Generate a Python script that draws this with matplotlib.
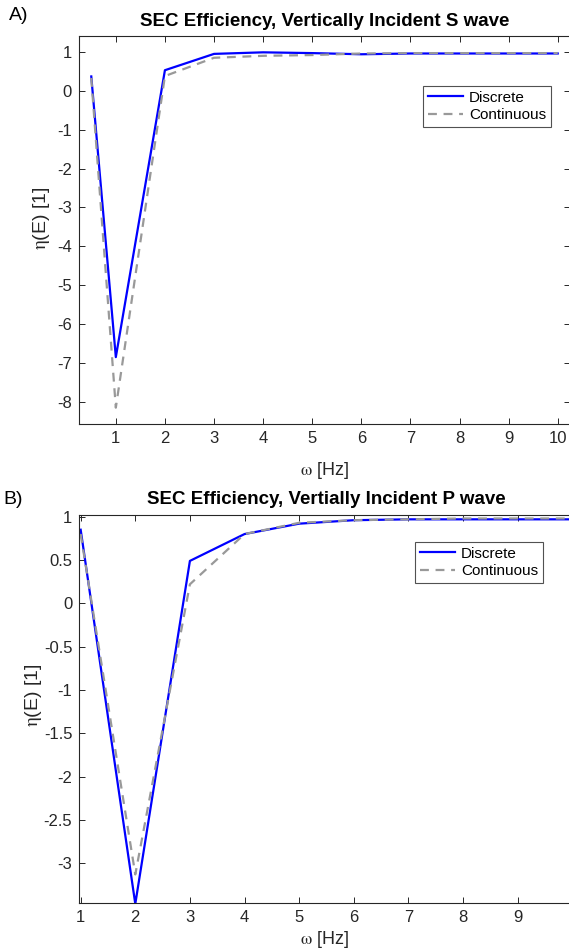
import matplotlib
matplotlib.use("Agg")
import matplotlib.pyplot as plt

plt.rcParams['font.family'] = ['Liberation Sans', 'DejaVu Sans']
plt.rcParams['axes.unicode_minus'] = False
plt.rcParams['mathtext.fontset'] = 'stix'

# Panel A: vertically incident S wave
freq_s = [0.5, 1, 2, 3, 4, 5, 6, 7, 8, 9, 10]
disc_s = [0.37, -6.85, 0.53, 0.95, 0.99, 0.97, 0.94, 0.96, 0.96, 0.96, 0.96]
cont_s = [0.33, -8.15, 0.38, 0.85, 0.90, 0.92, 0.96, 0.97, 0.97, 0.97, 0.97]

# Panel B: vertically incident P wave
freq_p = [1, 2, 3, 4, 5, 6, 7, 8, 9, 10]
disc_p = [0.85, -3.47, 0.49, 0.80, 0.92, 0.96, 0.97, 0.97, 0.97, 0.97]
cont_p = [0.80, -3.13, 0.22, 0.80, 0.93, 0.96, 0.97, 0.98, 0.98, 0.98]

yticks_s = [1, 0, -1, -2, -3, -4, -5, -6, -7, -8]
xticks_s = [1, 2, 3, 4, 5, 6, 7, 8, 9, 10]
yticks_p = [1, 0.5, 0, -0.5, -1, -1.5, -2, -2.5, -3]
ytick_labels_p = ['1', '0.5', '0', '-0.5', '-1', '-1.5', '-2', '-2.5', '-3']
xticks_p = [1, 2, 3, 4, 5, 6, 7, 8, 9]

W, H = 569, 952
fig = plt.figure(figsize=(W / 100, H / 100), dpi=100)

def px_axes(l, r, t, b):
    return fig.add_axes([l / W, 1 - b / H, (r - l) / W, (b - t) / H])

grey = (0.15, 0.15, 0.15)
blue = (0, 0, 1)
dash_c = (0.6, 0.6, 0.6)

def style(ax):
    ax.tick_params(direction='in', top=True, right=True, length=4, width=0.7,
                   labelsize=12, colors=grey, pad=5)
    for s in ax.spines.values():
        s.set_color(grey)
        s.set_linewidth(0.8)

def add_legend(ax, x0, y0):
    leg = ax.legend(loc='upper left', bbox_to_anchor=(x0, y0), bbox_transform=fig.transFigure,
                    fontsize=11, frameon=True, fancybox=False, handlelength=2.3,
                    borderpad=0.3, labelspacing=0.22, handletextpad=0.4, borderaxespad=0)
    leg.get_frame().set_edgecolor(grey)
    leg.get_frame().set_linewidth(0.8)
    return leg

xlabel_txt = r'$\mathrm{\omega}$ [Hz]'
ylabel_txt = r'$\mathrm{\eta}$(E) [1]'

ax1 = px_axes(79, 570, 36, 424)
ax1.plot(freq_s, disc_s, color=blue, lw=1.6, label='Discrete')
ax1.plot(freq_s, cont_s, color=dash_c, lw=1.6, ls=(0, (4, 3)), label='Continuous')
ax1.set_xlim(0.25, 10.25)
ax1.set_ylim(-8.57, 1.41)
ax1.set_xticks(xticks_s)
ax1.set_yticks(yticks_s)
style(ax1)
ax1.set_xlabel(xlabel_txt, fontsize=13, color=grey)
ax1.set_ylabel(ylabel_txt, fontsize=14, color=grey)
ax1.xaxis.set_label_coords((325 - 79) / 491, -(460 - 424) / 388)
ax1.yaxis.set_label_coords((52 - 79) / 491, 1 - (218 - 36) / 388)
add_legend(ax1, 423 / W, 1 - 86 / H)

ax2 = px_axes(79.3, 575, 515, 903)
ax2.plot(freq_p, disc_p, color=blue, lw=1.6, label='Discrete')
ax2.plot(freq_p, cont_p, color=dash_c, lw=1.6, ls=(0, (4, 3)), label='Continuous')
ax2.set_xlim(0.975, 10.05)
ax2.set_ylim(-3.46, 1.02)
ax2.set_xticks(xticks_p)
ax2.set_yticks(yticks_p)
ax2.set_yticklabels(ytick_labels_p)
style(ax2)
ax2.set_xlabel(xlabel_txt, fontsize=13, color=grey)
ax2.set_ylabel(ylabel_txt, fontsize=14, color=grey)
ax2.xaxis.set_label_coords((325 - 79.3) / 495.7, -(929 - 903) / 388)
ax2.yaxis.set_label_coords((44 - 79.3) / 495.7, 1 - (695 - 515) / 388)
add_legend(ax2, 415 / W, 1 - 542 / H)

fig.text(325 / W, 1 - 22 / H, 'SEC Efficiency, Vertically Incident S wave',
         ha='center', va='center', fontsize=13.5, fontweight='bold')
fig.text(326 / W, 1 - 500 / H, 'SEC Efficiency, Vertially Incident P wave',
         ha='center', va='center', fontsize=13.5, fontweight='bold')
fig.text(9 / W, 1 - 16 / H, 'A)', ha='left', va='center', fontsize=14)
fig.text(3 / W, 1 - 500 / H, 'B)', ha='left', va='center', fontsize=14)

fig.savefig('out.png', dpi=100)
